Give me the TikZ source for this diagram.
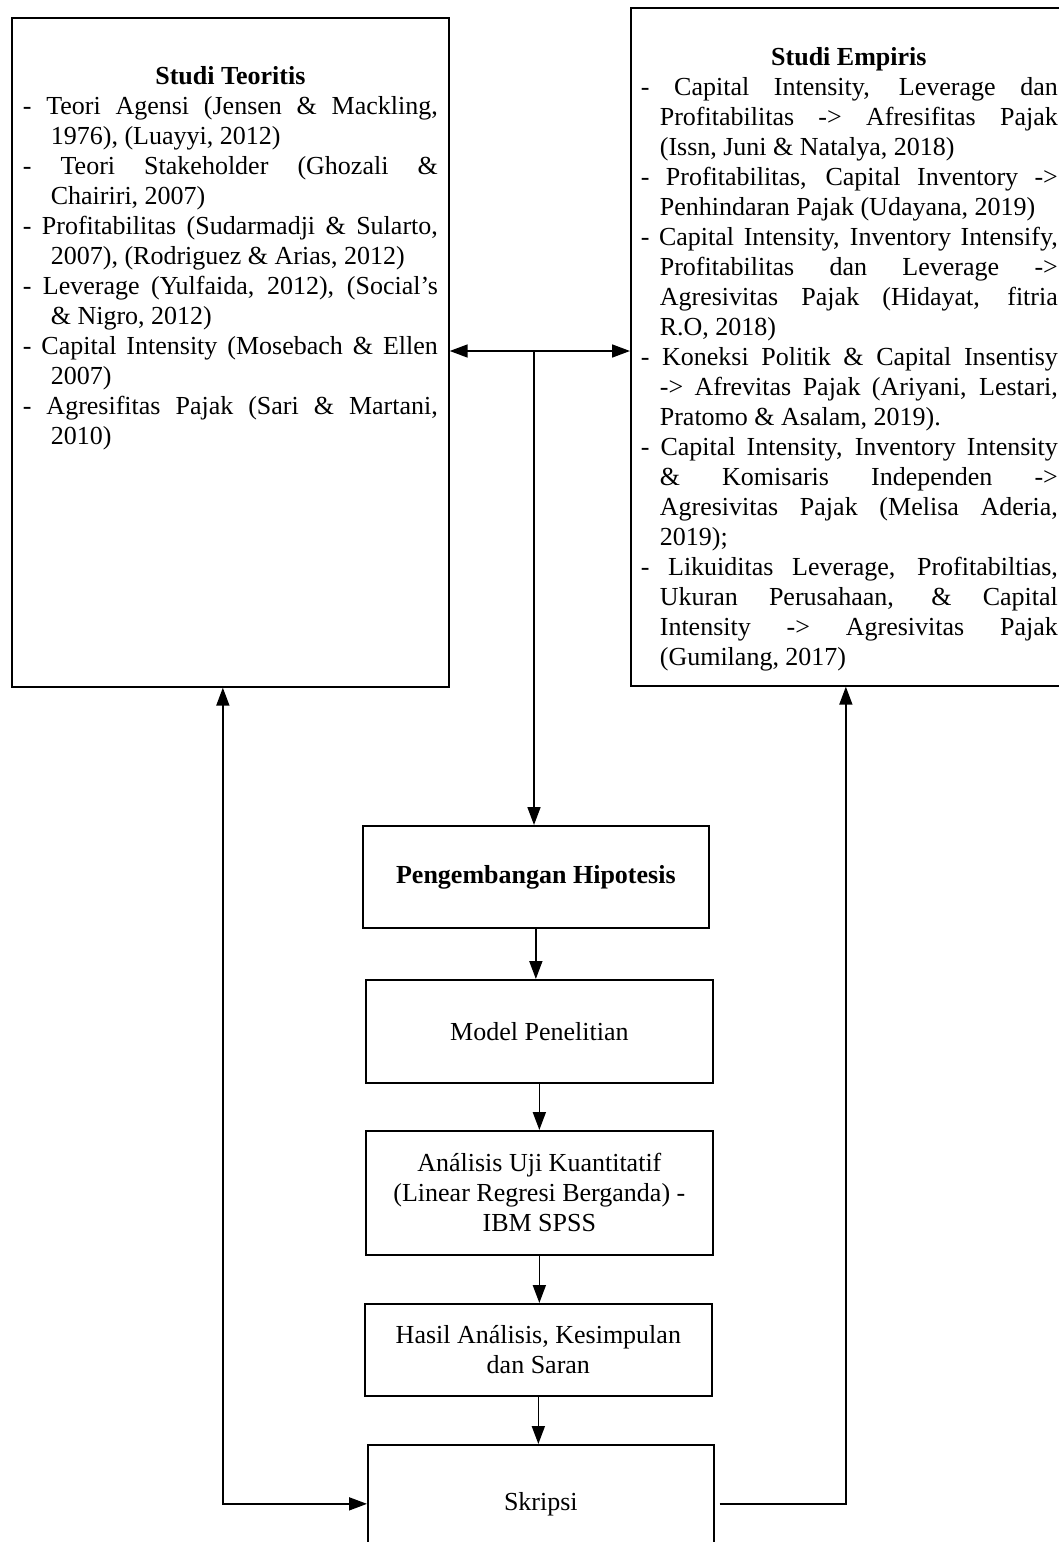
\documentclass[tikz,border=0pt]{standalone}
\usepackage{fontspec}
\setmainfont{Liberation Serif}
\usepackage{tikz}
\usetikzlibrary{shapes,arrows.meta}
\usetikzlibrary{calc}
\newcommand{\boxfont}{\fontsize{13pt}{15pt}\selectfont}
\newcommand{\entry}[2][14pt]{\par\hangindent=#1\hangafter=1 -\ #2}
\hbadness=10000
\tikzset{
  flow box/.style={draw, line width=0.85pt, anchor=north west, inner sep=0pt, align=center, font=\boxfont},
  study box/.style={draw, line width=0.85pt, anchor=north west, inner sep=0pt},
  flow arrow/.style={line width=0.85pt, -{Triangle[length=9pt,width=6.5pt]}},
  both arrow/.style={line width=0.85pt, {Triangle[length=9pt,width=6.5pt]}-{Triangle[length=9pt,width=6.5pt]}},
}

\begin{document}
\begin{tikzpicture}[x=0.5pt,y=-0.5pt]
    \useasboundingbox (0,0) rectangle (1059,1542);
    % literature boxes
    \node[study box] (teori) at (11,17) {\parbox[c][334.5pt][t]{218.5pt}{%
        \boxfont\parskip=0pt\hyphenpenalty=10000\leftskip=5.5pt\rightskip=5.5pt
        \vspace*{24.4pt}
        {\centering\textbf{Studi Teoritis}\par}
        \entry{Teori Agensi (Jensen \& Mackling,\linebreak 1976), (Luayyi, 2012)}
        \entry{Teori Stakeholder (Ghozali \&\linebreak Chairiri, 2007)}
        \entry{Profitabilitas (Sudarmadji \& Sularto,\linebreak 2007), (Rodriguez \& Arias, 2012)}
        \entry{Leverage (Yulfaida, 2012), (Social’s\linebreak \& Nigro, 2012)}
        \entry{Capital Intensity (Mosebach \& Ellen\linebreak 2007)}
        \entry{Agresifitas Pajak (Sari \& Martani,\linebreak 2010)}\par}};
    \node[study box] (empiris) at (630,7) {\parbox[c][339pt][t]{218pt}{%
        \boxfont\parskip=0pt\hyphenpenalty=10000\leftskip=5pt\rightskip=4.5pt
        \vspace*{19.6pt}
        {\centering\textbf{Studi Empiris}\par}
        \entry[9.5pt]{Capital Intensity, Leverage dan\linebreak Profitabilitas -> Afresifitas Pajak\linebreak (Issn, Juni \& Natalya, 2018)}
        \entry[9.5pt]{Profitabilitas, Capital Inventory ->\linebreak Penhindaran Pajak (Udayana, 2019)}
        \entry[9.5pt]{Capital Intensity, Inventory Intensify,\linebreak Profitabilitas dan Leverage ->\linebreak Agresivitas Pajak (Hidayat, fitria\linebreak R.O, 2018)}
        \entry[9.5pt]{Koneksi Politik \& Capital Insentisy\linebreak -> Afrevitas Pajak (Ariyani, Lestari,\linebreak Pratomo \& Asalam, 2019).}
        \entry[9.5pt]{Capital Intensity, Inventory Intensity\linebreak \& Komisaris Independen ->\linebreak Agresivitas Pajak (Melisa Aderia,\linebreak 2019);}
        \entry[9.5pt]{Likuiditas Leverage, Profitabiltias,\linebreak Ukuran Perusahaan, \& Capital\linebreak Intensity -> Agresivitas Pajak\linebreak (Gumilang, 2017)}\par}};

    % flow
    \node[flow box, minimum width=173pt, minimum height=51pt] (hipotesis) at (362,825) {\textbf{Pengembangan Hipotesis}};
    \node[flow box, minimum width=173.5pt, minimum height=51.5pt] (model) at (365,979) {Model Penelitian};
    \node[flow box, minimum width=173.5pt, minimum height=62pt] (analisis) at (365,1130) {Análisis Uji Kuantitatif\\(Linear Regresi Berganda) -\\IBM SPSS};
    \node[flow box, minimum width=173.5pt, minimum height=46pt] (hasil) at (364,1303) {Hasil Análisis, Kesimpulan\\dan Saran};
    \node[flow box, minimum width=173pt, minimum height=59pt] (skripsi) at (367,1444) {Skripsi};

    \coordinate (hub) at (534,351);
    \draw[both arrow] (teori.east |- hub) -- (empiris.west |- hub);
    \draw[flow arrow] (hub) -- (hub |- hipotesis.north);
    \draw[flow arrow] (hipotesis.south) -- (hipotesis.south |- model.north);
    \draw[flow arrow] (model.south) -- (model.south |- analisis.north);
    \draw[flow arrow] (analisis.south) -- (analisis.south |- hasil.north);
    \draw[flow arrow] (hasil.south) -- (hasil.south |- skripsi.north);
    \draw[both arrow] ([xshift=-3.75pt]teori.south) |- (skripsi.west);
    \draw[flow arrow] ([xshift=2.5pt]skripsi.east) -| ([xshift=-1.5pt]empiris.south);
\end{tikzpicture}
\end{document}
